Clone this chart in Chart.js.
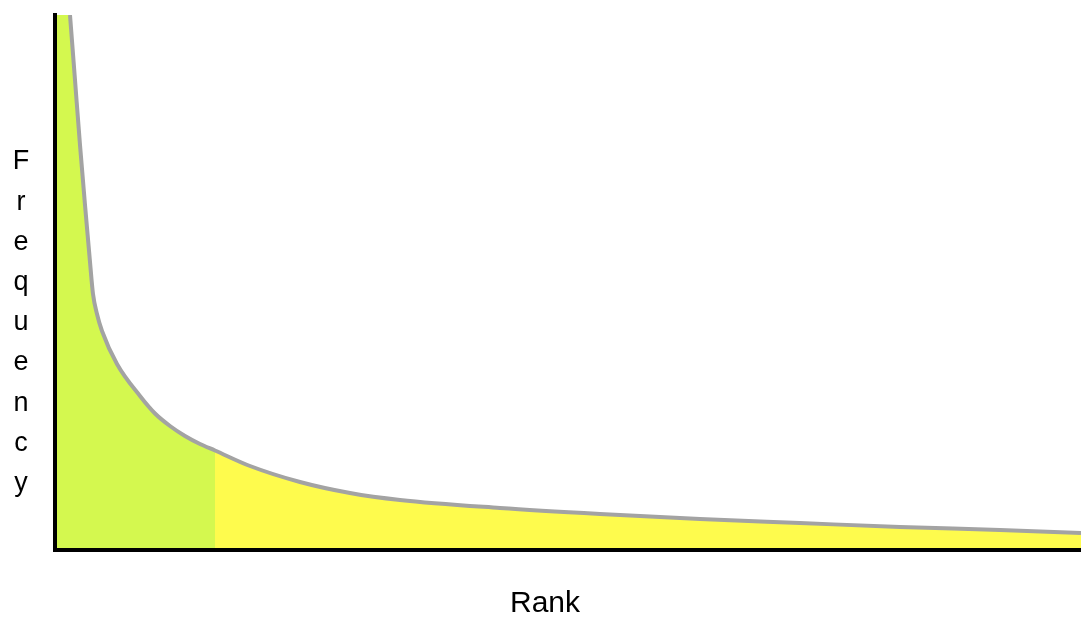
<!DOCTYPE html>
<html>
<head>
<meta charset="utf-8">
<script src="https://cdn.jsdelivr.net/npm/chart.js@4.4.1/dist/chart.umd.min.js"></script>
<style>
  html, body { margin: 0; padding: 0; background: #fff; }
  #wrap { width: 1081px; height: 617px; position: relative; }
</style>
</head>
<body>
<div id="wrap"><canvas id="graph-div"></canvas></div>
<script>
// rank positions and frequencies
const ranks = [15, 20, 25, 30, 35, 38, 42, 47, 62, 85, 100, 115, 130, 145, 160, 195, 245, 295, 345, 445, 545, 645, 745, 845, 945, 1026];
const freqs = [535, 470, 405, 345, 288, 256, 236, 219, 186, 154, 136.5, 124, 114, 106, 99.5, 84, 68, 57, 50, 42, 36, 31, 27, 23, 20, 17];
const headSplit = 160; // where the green "head" ends and yellow "tail" starts
const xLabel = 'Rank';
const yLabel = 'Frequency';

const curve = ranks.map((r, i) => ({x: r, y: freqs[i]}));
const head = [{x: 0, y: 535}].concat(curve.filter(p => p.x <= headSplit));
const tail = curve.filter(p => p.x >= headSplit);

// draws the axis titles (stacked letters for the y one)
const axisLabels = {
  id: 'axisLabels',
  afterDraw(chart) {
    const ctx = chart.ctx;
    ctx.save();
    ctx.fillStyle = '#000';
    ctx.textAlign = 'center';
    ctx.textBaseline = 'middle';
    ctx.font = '27px "Liberation Sans", Arial, sans-serif';
    const letters = yLabel.split('');
    for (let i = 0; i < letters.length; i++) {
      ctx.fillText(letters[i], 21, 162 + i * 40.2);
    }
    ctx.font = '30px "Liberation Sans", Arial, sans-serif';
    ctx.fillText(xLabel, 545, 604);
    ctx.restore();
  }
};

const ctx = document.getElementById('graph-div').getContext('2d');
new Chart(ctx, {
  type: 'line',
  data: {
    datasets: [
      {
        data: curve,
        borderColor: '#a3a3a3',
        borderWidth: 4,
        pointRadius: 0,
        cubicInterpolationMode: 'monotone',
        fill: false
      },
      {
        data: head,
        borderWidth: 0,
        pointRadius: 0,
        cubicInterpolationMode: 'monotone',
        backgroundColor: '#d4f84f',
        fill: 'origin'
      },
      {
        data: tail,
        borderWidth: 0,
        pointRadius: 0,
        cubicInterpolationMode: 'monotone',
        backgroundColor: '#fefb4d',
        fill: 'origin'
      }
    ]
  },
  options: {
    responsive: true,
    maintainAspectRatio: false,
    animation: false,
    layout: { padding: { top: 15, right: 0, bottom: 0, left: 0 } },
    plugins: { legend: { display: false }, tooltip: { enabled: false } },
    scales: {
      x: {
        type: 'linear',
        min: 0,
        max: 1026,
        grid: { display: false, drawTicks: false },
        ticks: { display: false },
        border: { color: '#000', width: 4, z: 1 }, // axis line on top of the fill
        afterFit: s => { s.height = 67; }
      },
      y: {
        min: 0,
        max: 535,
        grid: { display: false, drawTicks: false },
        ticks: { display: false },
        border: { color: '#000', width: 4, z: 1 },
        afterFit: s => { s.width = 55; }
      }
    }
  },
  plugins: [axisLabels]
});
</script>
</body>
</html>
